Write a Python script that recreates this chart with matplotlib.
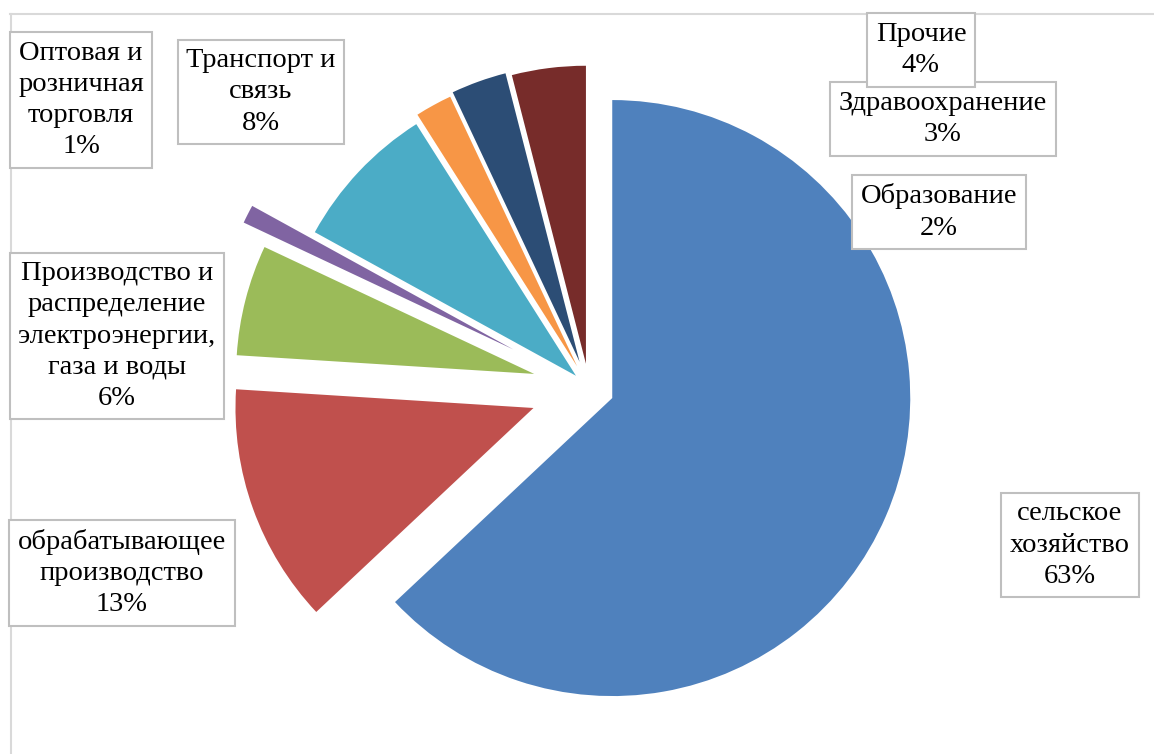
import matplotlib.pyplot as plt
from matplotlib.lines import Line2D

plt.rcParams['font.family'] = ['Liberation Serif', 'DejaVu Serif']

# данные
categories = ['сельское\nхозяйство', 'обрабатывающее\nпроизводство',
              'Производство и\nраспределение\nэлектроэнергии,\nгаза и воды',
              'Оптовая и\nрозничная\nторговля', 'Транспорт и\nсвязь',
              'Образование', 'Здравоохранение', 'Прочие']
shares = [63, 13, 6, 1, 8, 2, 3, 4]
colors = ['#4F81BD', '#C0504D', '#9BBB59', '#8064A2', '#4BACC6',
          '#F79646', '#2C4D75', '#772C2A']
explode = [0.085, 0.198, 0.19, 0.285, 0.06, 0.083, 0.093, 0.082]

W, H = 1154, 754
R = 298.0          # радиус круга, px
cx, cy = 589.0, 388.0  # центр круга, px

fig = plt.figure(figsize=(W / 100, H / 100), dpi=100, facecolor='white')
ax = fig.add_axes([0, 0, 1, 1])
ax.pie(shares, explode=explode, colors=colors, startangle=90,
       counterclock=False, radius=1, wedgeprops=dict(linewidth=0))
ax.set_xlim(-cx / R, (W - cx) / R)
ax.set_ylim(-(H - cy) / R, cy / R)
ax.set_aspect('auto')
ax.axis('off')

# рамка области диаграммы (обрезана)
fig.add_artist(Line2D([10 / W, 1], [1 - 14 / H, 1 - 14 / H], color='#D9D9D9', lw=1.5))
fig.add_artist(Line2D([11 / W, 11 / W], [1 - 14 / H, 0], color='#D9D9D9', lw=1.5))

# подписи: центр рамки в px
label_pos = [(1070, 545), (122, 573), (117, 336), (81, 100), (261, 92),
             (939, 212), (943, 119), (921, 50)]
for name, val, (x, y) in zip(categories, shares, label_pos):
    fig.text(x / W, 1 - y / H, f'{name}\n{val}%', ha='center', va='center',
             fontsize=20.5, linespacing=1.32, multialignment='center',
             bbox=dict(boxstyle='square,pad=0.3', fc='white', ec='#BFBFBF', lw=1.5))

plt.savefig('out.png', dpi=100)
